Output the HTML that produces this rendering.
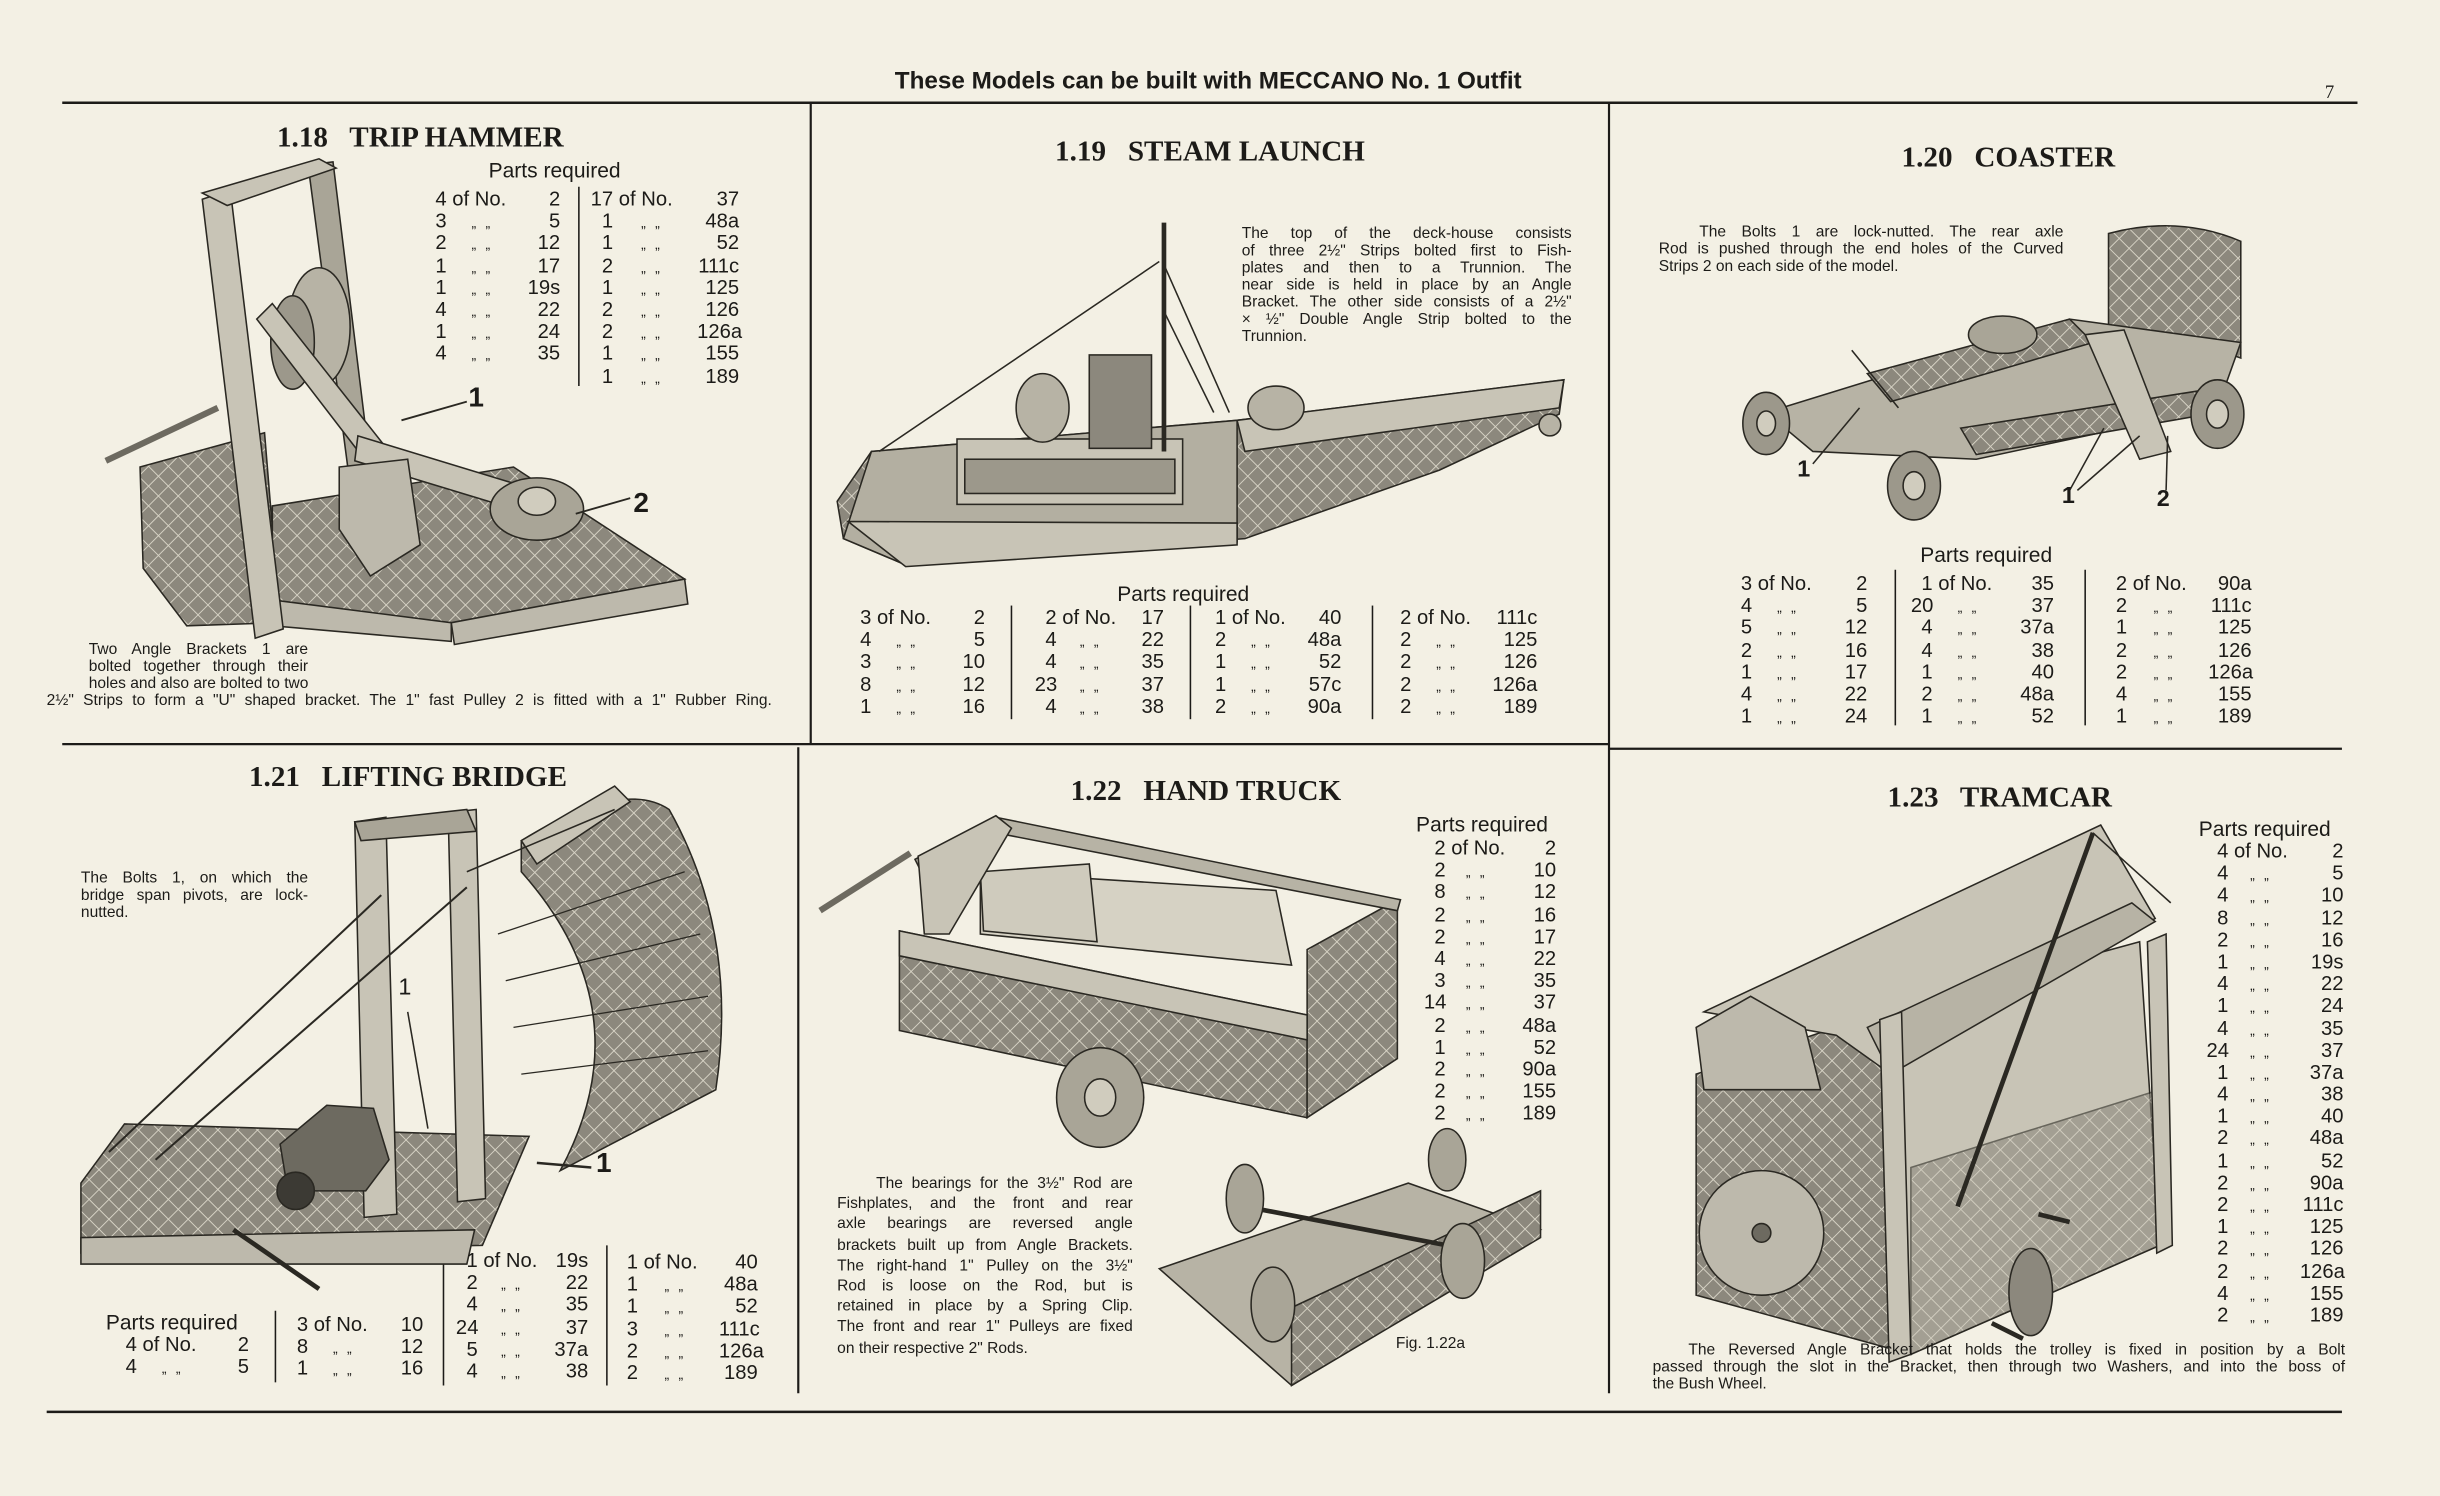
<!DOCTYPE html>
<html><head><meta charset="utf-8">
<style>
html,body{margin:0;padding:0;background:#f3f0e4;}
#pg{position:relative;width:2440px;height:1496px;overflow:hidden;background:#f3f0e4;}
#w{position:absolute;left:0;top:0;width:1568px;height:961px;transform:scale(1.5561,1.5567);transform-origin:0 0;}
svg{position:absolute;left:0;top:0}
.x{position:absolute;color:#1c1b18;font-family:"Liberation Sans Narrow","Liberation Sans",sans-serif;white-space:nowrap}
.ttl{position:absolute;font-family:"Liberation Serif",serif;font-weight:bold;font-size:18px;color:#1c1b18;white-space:pre;transform:scaleX(1.04);transform-origin:0 0}
.pr{font-size:13.5px}
.tb{position:absolute;font-family:"Liberation Sans Narrow","Liberation Sans",sans-serif;font-size:13px;line-height:14.2px;color:#1c1b18;white-space:nowrap}
.tb div{height:14.2px}
.tb span{display:inline-block}
.q{width:var(--q);text-align:right}
.m{width:var(--m);text-align:left;padding-left:0}
.m.d{text-align:center;font-size:9px;letter-spacing:6px}
.n{width:var(--n);text-align:right}
.cap{position:absolute;font-family:"Liberation Sans Narrow","Liberation Sans",sans-serif;font-size:10px;line-height:11px;color:#1c1b18;text-align:justify;text-align-last:justify}
.cap .l{display:block;white-space:nowrap}
.lbl{position:absolute;font-family:"Liberation Sans",sans-serif;font-weight:bold;font-size:18px;color:#1c1b18}
</style></head><body><div id="pg"><div id="w">

<svg width="1568" height="961" viewBox="0 0 1568 961">
<defs>
<pattern id="h" width="9" height="9" patternUnits="userSpaceOnUse" patternTransform="rotate(45)">
<rect width="9" height="9" fill="#8c887d"/>
<line x1="0" y1="0" x2="0" y2="9" stroke="#d8d4c6" stroke-width="1.2"/>
<line x1="0" y1="0" x2="9" y2="0" stroke="#d8d4c6" stroke-width="1.2"/>
</pattern>
</defs>
<g stroke="#1c1b18" fill="none">
<line x1="40" y1="66" x2="1515" y2="66" stroke-width="1.6"/>
<line x1="521" y1="66" x2="521" y2="478" stroke-width="1.4"/>
<line x1="1034" y1="66" x2="1034" y2="895" stroke-width="1.4"/>
<line x1="513" y1="480" x2="513" y2="895" stroke-width="1.4"/>
<line x1="40" y1="478" x2="1034" y2="478" stroke-width="1.4"/>
<line x1="1034" y1="481" x2="1505" y2="481" stroke-width="1.4"/>
<line x1="30" y1="907" x2="1505" y2="907" stroke-width="1.6"/>
<line x1="372" y1="120" x2="372" y2="248" stroke-width="1"/>
<line x1="650" y1="389" x2="650" y2="462"/><line x1="765" y1="389" x2="765" y2="462"/><line x1="882" y1="389" x2="882" y2="462"/>
<line x1="1218" y1="366" x2="1218" y2="466"/><line x1="1340" y1="366" x2="1340" y2="466"/>
<line x1="177" y1="842" x2="177" y2="888"/><line x1="285" y1="800" x2="285" y2="890"/><line x1="390" y1="800" x2="390" y2="890"/>
</g>

<!-- 1.18 Trip hammer -->
<g stroke="#2a2822" stroke-width="1">
<path d="M90,300 L170,278 L180,400 L120,402 L92,365 Z" fill="url(#h)"/>
<path d="M175,325 L330,300 L440,372 L290,402 L175,398 Z" fill="url(#h)"/>
<path d="M172,385 L290,400 L290,412 L175,402 Z" fill="#bdb9ac"/>
<path d="M290,400 L440,372 L442,388 L292,414 Z" fill="#bdb9ac"/>
<path d="M198,106 L214,104 L238,300 L224,304 Z" fill="#a9a597"/>
<path d="M130,128 L148,122 L182,404 L164,410 Z" fill="#c8c4b6"/>
<path d="M130,124 L205,102 L216,108 L146,132 Z" fill="#c8c4b6"/>
<ellipse cx="205" cy="210" rx="20" ry="38" fill="#b7b3a5"/>
<ellipse cx="188" cy="220" rx="14" ry="30" fill="#9c988b"/>
<path d="M175,195 L250,290 L238,300 L165,205 Z" fill="#c8c4b6"/>
<path d="M230,280 L345,315 L340,330 L228,296 Z" fill="#c8c4b6"/>
<path d="M218,300 L262,295 L270,350 L238,370 L218,340 Z" fill="#bdb9ac"/>
<ellipse cx="345" cy="327" rx="30" ry="20" fill="#a9a597"/>
<ellipse cx="345" cy="322" rx="12" ry="9" fill="#d0ccbe"/>
<line x1="68" y1="296" x2="140" y2="262" stroke-width="4" stroke="#6d6a60"/>
<line x1="258" y1="270" x2="300" y2="258" stroke-width="1.2"/>
<line x1="370" y1="330" x2="405" y2="320" stroke-width="1.2"/>
</g>

<!-- 1.19 Steam launch -->
<g stroke="#2a2822" stroke-width="1">
<path d="M538,322 L560,290 L795,270 L1005,244 L1002,266 L925,302 L800,346 L580,362 L542,346 Z" fill="url(#h)"/>
<path d="M560,290 L795,270 L795,348 L580,362 L542,346 Z" fill="#b3afa1"/>
<path d="M545,335 L795,336 L795,350 L582,364 Z" fill="#c8c4b6"/>
<path d="M795,270 L1005,244 L1002,262 L800,290 Z" fill="#c8c4b6"/>
<rect x="615" y="282" width="145" height="42" fill="#c8c4b6"/>
<rect x="620" y="295" width="135" height="22" fill="#9c988b"/>
<ellipse cx="670" cy="262" rx="17" ry="22" fill="#b7b3a5"/>
<ellipse cx="820" cy="262" rx="18" ry="14" fill="#b7b3a5"/>
<rect x="700" y="228" width="40" height="60" fill="#8c887d"/>
<line x1="748" y1="143" x2="748" y2="290" stroke-width="3"/>
<line x1="565" y1="290" x2="745" y2="168"/>
<line x1="748" y1="170" x2="790" y2="265"/>
<line x1="748" y1="200" x2="780" y2="265"/>
<circle cx="996" cy="273" r="7" fill="#b7b3a5"/>
</g>

<!-- 1.20 Coaster -->
<g stroke="#2a2822" stroke-width="1">
<path d="M1355,150 Q1400,138 1440,155 L1440,230 Q1400,215 1355,225 Z" fill="url(#h)"/>
<path d="M1135,265 L1330,205 L1440,220 L1425,262 L1270,295 L1165,290 Z" fill="#b7b3a5"/>
<path d="M1200,240 L1330,205 L1345,220 L1215,258 Z" fill="url(#h)"/>
<path d="M1260,275 L1420,250 L1425,265 L1270,292 Z" fill="url(#h)"/>
<path d="M1340,215 L1365,212 L1395,290 L1375,295 Z" fill="#c8c4b6"/>
<ellipse cx="1287" cy="215" rx="22" ry="12" fill="#a9a597"/>
<ellipse cx="1135" cy="272" rx="15" ry="20" fill="#9c988b"/><ellipse cx="1135" cy="272" rx="6" ry="8" fill="#d0ccbe"/>
<ellipse cx="1230" cy="312" rx="17" ry="22" fill="#9c988b"/><ellipse cx="1230" cy="312" rx="7" ry="9" fill="#d0ccbe"/>
<ellipse cx="1425" cy="266" rx="17" ry="22" fill="#9c988b"/><ellipse cx="1425" cy="266" rx="7" ry="9" fill="#d0ccbe"/>
<line x1="1190" y1="225" x2="1220" y2="262"/>
<line x1="1165" y1="298" x2="1195" y2="262"/>
<line x1="1330" y1="315" x2="1352" y2="275"/><line x1="1335" y1="315" x2="1375" y2="280"/>
<line x1="1392" y1="315" x2="1393" y2="280"/>
</g>

<!-- 1.21 Lifting bridge -->
<g stroke="#2a2822" stroke-width="1">
<path d="M52,760 L80,722 L340,730 L310,800 L52,805 Z" fill="url(#h)"/>
<path d="M52,795 L305,790 L300,812 L52,812 Z" fill="#bdb9ac"/>
<path d="M228,528 L248,525 L255,780 L234,782 Z" fill="#c8c4b6"/>
<path d="M288,522 L306,520 L312,770 L294,772 Z" fill="#c8c4b6"/>
<path d="M228,528 L300,520 L306,534 L232,540 Z" fill="#a9a597"/>
<path d="M335,540 Q400,500 430,520 Q475,600 460,700 L360,752 Q415,650 335,560 Z" fill="url(#h)"/>
<path d="M335,540 L395,505 L405,515 L345,555 Z" fill="#c8c4b6"/>
<line x1="70" y1="740" x2="245" y2="575" stroke-width="1.3"/>
<line x1="100" y1="745" x2="300" y2="570" stroke-width="1.3"/>
<line x1="300" y1="560" x2="395" y2="520"/>
<g stroke-width="0.8"><line x1="320" y1="600" x2="440" y2="560"/><line x1="325" y1="630" x2="450" y2="600"/><line x1="330" y1="660" x2="455" y2="640"/><line x1="335" y1="690" x2="455" y2="675"/></g>
<path d="M180,735 L210,710 L240,712 L250,745 L235,765 L185,765 Z" fill="#6d6a60"/>
<ellipse cx="190" cy="765" rx="12" ry="12" fill="#3c3a34"/>
<line x1="150" y1="790" x2="205" y2="828" stroke-width="3"/>
<line x1="262" y1="650" x2="275" y2="725"/>
<line x1="345" y1="747" x2="380" y2="750" stroke-width="1.6"/>
</g>

<!-- 1.22 Hand truck -->
<g stroke="#2a2822" stroke-width="1">
<path d="M578,598 L840,652 L840,718 L578,662 Z" fill="url(#h)"/>
<path d="M840,610 L898,578 L898,680 L840,718 Z" fill="url(#h)"/>
<path d="M578,598 L840,652 L840,668 L578,614 Z" fill="#c8c4b6"/>
<path d="M630,560 L820,572 L830,620 L630,600 Z" fill="#d6d2c4"/>
<path d="M630,560 L700,555 L705,605 L632,598 Z" fill="#cfcbbd"/>
<path d="M588,552 L640,525 L900,578 L898,585 L640,535 L592,560 Z" fill="#b7b3a5"/>
<path d="M590,550 L640,524 L650,532 L610,600 L594,600 Z" fill="#c8c4b6"/>
<line x1="527" y1="585" x2="585" y2="548" stroke-width="4" stroke="#6d6a60"/>
<ellipse cx="707" cy="705" rx="28" ry="32" fill="#a9a597"/>
<ellipse cx="707" cy="705" rx="10" ry="12" fill="#d0ccbe"/>
<path d="M745,815 L905,760 L990,790 L830,890 Z" fill="#b7b3a5"/>
<path d="M830,840 L990,765 L990,795 L830,890 Z" fill="url(#h)"/>
<line x1="800" y1="775" x2="930" y2="800" stroke-width="3"/>
<ellipse cx="800" cy="770" rx="12" ry="22" fill="#a9a597"/>
<ellipse cx="930" cy="745" rx="12" ry="20" fill="#a9a597"/>
<ellipse cx="940" cy="810" rx="14" ry="24" fill="#a9a597"/>
<ellipse cx="818" cy="838" rx="14" ry="24" fill="#a9a597"/>
</g>

<!-- 1.23 Tramcar -->
<g stroke="#2a2822" stroke-width="1">
<path d="M1090,690 L1210,650 L1228,870 L1090,832 Z" fill="url(#h)"/>
<path d="M1210,650 L1375,605 L1388,800 L1228,870 Z" fill="#c8c4b6"/>
<path d="M1228,750 L1388,700 L1388,800 L1228,870 Z" fill="url(#h)" opacity="0.6"/>
<path d="M1095,650 L1350,530 L1385,590 L1215,690 L1180,665 Z" fill="#c8c4b6"/>
<path d="M1200,660 L1370,580 L1385,592 L1215,690 Z" fill="#b7b3a5"/>
<path d="M1090,660 L1125,640 L1160,660 L1170,700 L1095,700 Z" fill="#bdb9ac"/>
<path d="M1380,605 L1392,600 L1396,800 L1386,805 Z" fill="#c8c4b6"/>
<path d="M1208,655 L1222,650 L1228,870 L1214,875 Z" fill="#c8c4b6"/>
<line x1="1258" y1="775" x2="1345" y2="535" stroke-width="3"/>
<line x1="1345" y1="535" x2="1395" y2="580"/>
<circle cx="1132" cy="792" r="40" fill="#bdb9ac"/>
<circle cx="1132" cy="792" r="6" fill="#6d6a60"/>
<ellipse cx="1305" cy="830" rx="14" ry="28" fill="#8c887d"/>
<line x1="1310" y1="780" x2="1330" y2="785" stroke-width="3"/>
<line x1="1280" y1="850" x2="1300" y2="860" stroke-width="3"/>
</g>
</svg>

<div class="x" style="left:575px;top:44px;font-size:15.6px;font-weight:bold;font-family:'Liberation Sans Narrow','Liberation Sans',sans-serif">These Models can be built with MECCANO No. 1 Outfit</div>
<div class="x" style="left:1494px;top:52px;font-size:12px;font-family:'Liberation Serif',serif">7</div>

<div class="ttl" style="left:178px;top:78px">1.18   TRIP HAMMER</div>
<div class="ttl" style="left:678px;top:87px">1.19   STEAM LAUNCH</div>
<div class="ttl" style="left:1222px;top:91px">1.20   COASTER</div>
<div class="ttl" style="left:160px;top:489px">1.21   LIFTING BRIDGE</div>
<div class="ttl" style="left:688px;top:498px">1.22   HAND TRUCK</div>
<div class="ttl" style="left:1213px;top:502px">1.23   TRAMCAR</div>

<div class="x pr" style="left:314px;top:102px">Parts  required</div>
<div class="tb" style="left:277px;top:121px;--q:10px;--m:50px;--n:23px">
<div><span class="q">4</span><span class="m">&nbsp;of No.</span><span class="n">2</span></div>
<div><span class="q">3</span><span class="m d">„„</span><span class="n">5</span></div>
<div><span class="q">2</span><span class="m d">„„</span><span class="n">12</span></div>
<div><span class="q">1</span><span class="m d">„„</span><span class="n">17</span></div>
<div><span class="q">1</span><span class="m d">„„</span><span class="n">19s</span></div>
<div><span class="q">4</span><span class="m d">„„</span><span class="n">22</span></div>
<div><span class="q">1</span><span class="m d">„„</span><span class="n">24</span></div>
<div><span class="q">4</span><span class="m d">„„</span><span class="n">35</span></div>
</div>
<div class="tb" style="left:378px;top:121px;--q:16px;--m:54px;--n:27px">
<div><span class="q">17</span><span class="m">&nbsp;of No.</span><span class="n">37</span></div>
<div><span class="q">1</span><span class="m d">„„</span><span class="n">48a</span></div>
<div><span class="q">1</span><span class="m d">„„</span><span class="n">52</span></div>
<div><span class="q">2</span><span class="m d">„„</span><span class="n">111c</span></div>
<div><span class="q">1</span><span class="m d">„„</span><span class="n">125</span></div>
<div><span class="q">2</span><span class="m d">„„</span><span class="n">126</span></div>
<div><span class="q">2</span><span class="m d">„„</span><span class="n">126a</span></div>
<div><span class="q">1</span><span class="m d">„„</span><span class="n">155</span></div>
<div><span class="q">1</span><span class="m d">„„</span><span class="n">189</span></div>
</div>
<div class="lbl" style="left:301px;top:245px">1</div>
<div class="lbl" style="left:407px;top:313px">2</div>
<div class="cap" style="left:57px;top:412px;width:141px">
<span class="l">Two Angle Brackets 1 are</span><span class="l">bolted together through their</span><span class="l">holes and also are bolted to two</span></div>
<div class="cap" style="left:30px;top:445px;width:466px"><span class="l">2½" Strips to form a "U" shaped bracket. The 1" fast Pulley 2 is fitted with a 1" Rubber Ring.</span></div>

<div class="cap" style="left:798px;top:145px;width:212px">
<span class="l">The top of the deck-house consists</span><span class="l">of three 2½" Strips bolted first to Fish-</span><span class="l">plates and then to a Trunnion. The</span><span class="l">near side is held in place by an Angle</span><span class="l">Bracket. The other side consists of a 2½"</span><span class="l">× ½" Double Angle Strip bolted to the</span><span class="l" style="text-align-last:left">Trunnion.</span></div>
<div class="x pr" style="left:718px;top:374px">Parts  required</div>
<div class="tb" style="left:550px;top:390px;--q:10px;--m:50px;--n:23px">
<div><span class="q">3</span><span class="m">&nbsp;of No.</span><span class="n">2</span></div>
<div><span class="q">4</span><span class="m d">„„</span><span class="n">5</span></div>
<div><span class="q">3</span><span class="m d">„„</span><span class="n">10</span></div>
<div><span class="q">8</span><span class="m d">„„</span><span class="n">12</span></div>
<div><span class="q">1</span><span class="m d">„„</span><span class="n">16</span></div>
</div>
<div class="tb" style="left:665px;top:390px;--q:14px;--m:48px;--n:21px">
<div><span class="q">2</span><span class="m">&nbsp;of No.</span><span class="n">17</span></div>
<div><span class="q">4</span><span class="m d">„„</span><span class="n">22</span></div>
<div><span class="q">4</span><span class="m d">„„</span><span class="n">35</span></div>
<div><span class="q">23</span><span class="m d">„„</span><span class="n">37</span></div>
<div><span class="q">4</span><span class="m d">„„</span><span class="n">38</span></div>
</div>
<div class="tb" style="left:778px;top:390px;--q:10px;--m:50px;--n:24px">
<div><span class="q">1</span><span class="m">&nbsp;of No.</span><span class="n">40</span></div>
<div><span class="q">2</span><span class="m d">„„</span><span class="n">48a</span></div>
<div><span class="q">1</span><span class="m d">„„</span><span class="n">52</span></div>
<div><span class="q">1</span><span class="m d">„„</span><span class="n">57c</span></div>
<div><span class="q">2</span><span class="m d">„„</span><span class="n">90a</span></div>
</div>
<div class="tb" style="left:897px;top:390px;--q:10px;--m:50px;--n:31px">
<div><span class="q">2</span><span class="m">&nbsp;of No.</span><span class="n">111c</span></div>
<div><span class="q">2</span><span class="m d">„„</span><span class="n">125</span></div>
<div><span class="q">2</span><span class="m d">„„</span><span class="n">126</span></div>
<div><span class="q">2</span><span class="m d">„„</span><span class="n">126a</span></div>
<div><span class="q">2</span><span class="m d">„„</span><span class="n">189</span></div>
</div>

<div class="cap" style="left:1066px;top:144px;width:260px">
<span class="l" style="padding-left:26px">The Bolts 1 are lock-nutted.  The rear axle</span><span class="l">Rod is pushed through the end holes of the Curved</span><span class="l" style="text-align-last:left">Strips 2 on each side of the model.</span></div>
<div class="lbl" style="left:1155px;top:293px;font-size:15px">1</div>
<div class="lbl" style="left:1325px;top:310px;font-size:15px">1</div>
<div class="lbl" style="left:1386px;top:312px;font-size:15px">2</div>
<div class="x pr" style="left:1234px;top:349px">Parts  required</div>
<div class="tb" style="left:1116px;top:368px;--q:10px;--m:50px;--n:24px">
<div><span class="q">3</span><span class="m">&nbsp;of No.</span><span class="n">2</span></div>
<div><span class="q">4</span><span class="m d">„„</span><span class="n">5</span></div>
<div><span class="q">5</span><span class="m d">„„</span><span class="n">12</span></div>
<div><span class="q">2</span><span class="m d">„„</span><span class="n">16</span></div>
<div><span class="q">1</span><span class="m d">„„</span><span class="n">17</span></div>
<div><span class="q">4</span><span class="m d">„„</span><span class="n">22</span></div>
<div><span class="q">1</span><span class="m d">„„</span><span class="n">24</span></div>
</div>
<div class="tb" style="left:1228px;top:368px;--q:14px;--m:50px;--n:28px">
<div><span class="q">1</span><span class="m">&nbsp;of No.</span><span class="n">35</span></div>
<div><span class="q">20</span><span class="m d">„„</span><span class="n">37</span></div>
<div><span class="q">4</span><span class="m d">„„</span><span class="n">37a</span></div>
<div><span class="q">4</span><span class="m d">„„</span><span class="n">38</span></div>
<div><span class="q">1</span><span class="m d">„„</span><span class="n">40</span></div>
<div><span class="q">2</span><span class="m d">„„</span><span class="n">48a</span></div>
<div><span class="q">1</span><span class="m d">„„</span><span class="n">52</span></div>
</div>
<div class="tb" style="left:1357px;top:368px;--q:10px;--m:52px;--n:28px">
<div><span class="q">2</span><span class="m">&nbsp;of No.</span><span class="n">90a</span></div>
<div><span class="q">2</span><span class="m d">„„</span><span class="n">111c</span></div>
<div><span class="q">1</span><span class="m d">„„</span><span class="n">125</span></div>
<div><span class="q">2</span><span class="m d">„„</span><span class="n">126</span></div>
<div><span class="q">2</span><span class="m d">„„</span><span class="n">126a</span></div>
<div><span class="q">4</span><span class="m d">„„</span><span class="n">155</span></div>
<div><span class="q">1</span><span class="m d">„„</span><span class="n">189</span></div>
</div>

<div class="cap" style="left:52px;top:559px;width:146px">
<span class="l" style="padding-left:0">The Bolts 1, on which the</span><span class="l">bridge span pivots, are lock-</span><span class="l" style="text-align-last:left">nutted.</span></div>
<div class="lbl" style="left:256px;top:626px;font-size:15px;font-weight:normal">1</div>
<div class="lbl" style="left:383px;top:737px">1</div>
<div class="x pr" style="left:68px;top:842px">Parts  required</div>
<div class="tb" style="left:78px;top:857px;--q:10px;--m:50px;--n:22px">
<div><span class="q">4</span><span class="m">&nbsp;of No.</span><span class="n">2</span></div>
<div><span class="q">4</span><span class="m d">„„</span><span class="n">5</span></div>
</div>
<div class="tb" style="left:188px;top:844px;--q:10px;--m:50px;--n:24px">
<div><span class="q">3</span><span class="m">&nbsp;of No.</span><span class="n">10</span></div>
<div><span class="q">8</span><span class="m d">„„</span><span class="n">12</span></div>
<div><span class="q">1</span><span class="m d">„„</span><span class="n">16</span></div>
</div>
<div class="tb" style="left:293px;top:803px;--q:14px;--m:48px;--n:23px">
<div><span class="q">1</span><span class="m">&nbsp;of No.</span><span class="n">19s</span></div>
<div><span class="q">2</span><span class="m d">„„</span><span class="n">22</span></div>
<div><span class="q">4</span><span class="m d">„„</span><span class="n">35</span></div>
<div><span class="q">24</span><span class="m d">„„</span><span class="n">37</span></div>
<div><span class="q">5</span><span class="m d">„„</span><span class="n">37a</span></div>
<div><span class="q">4</span><span class="m d">„„</span><span class="n">38</span></div>
</div>
<div class="tb" style="left:400px;top:804px;--q:10px;--m:52px;--n:25px">
<div><span class="q">1</span><span class="m">&nbsp;of No.</span><span class="n">40</span></div>
<div><span class="q">1</span><span class="m d">„„</span><span class="n">48a</span></div>
<div><span class="q">1</span><span class="m d">„„</span><span class="n">52</span></div>
<div><span class="q">3</span><span class="m d">„„</span><span class="n">111c</span></div>
<div><span class="q">2</span><span class="m d">„„</span><span class="n">126a</span></div>
<div><span class="q">2</span><span class="m d">„„</span><span class="n">189</span></div>
</div>

<div class="x pr" style="left:910px;top:522px">Parts  required</div>
<div class="tb" style="left:915px;top:538px;--q:14px;--m:44px;--n:27px">
<div><span class="q">2</span><span class="m">&nbsp;of No.</span><span class="n">2</span></div>
<div><span class="q">2</span><span class="m d">„„</span><span class="n">10</span></div>
<div><span class="q">8</span><span class="m d">„„</span><span class="n">12</span></div>
<div><span class="q">2</span><span class="m d">„„</span><span class="n">16</span></div>
<div><span class="q">2</span><span class="m d">„„</span><span class="n">17</span></div>
<div><span class="q">4</span><span class="m d">„„</span><span class="n">22</span></div>
<div><span class="q">3</span><span class="m d">„„</span><span class="n">35</span></div>
<div><span class="q">14</span><span class="m d">„„</span><span class="n">37</span></div>
<div><span class="q">2</span><span class="m d">„„</span><span class="n">48a</span></div>
<div><span class="q">1</span><span class="m d">„„</span><span class="n">52</span></div>
<div><span class="q">2</span><span class="m d">„„</span><span class="n">90a</span></div>
<div><span class="q">2</span><span class="m d">„„</span><span class="n">155</span></div>
<div><span class="q">2</span><span class="m d">„„</span><span class="n">189</span></div>
</div>
<div class="cap" style="left:538px;top:754px;width:190px;line-height:13.2px">
<span class="l" style="padding-left:25px">The bearings for the 3½" Rod are</span><span class="l">Fishplates, and the front and rear</span><span class="l">axle bearings are reversed angle</span><span class="l">brackets built up from Angle Brackets.</span><span class="l">The right-hand 1" Pulley on the 3½"</span><span class="l">Rod is loose on the Rod, but is</span><span class="l">retained in place by a Spring Clip.</span><span class="l">The front and rear 1" Pulleys are fixed</span><span class="l" style="text-align-last:left">on their respective 2" Rods.</span></div>
<div class="x" style="left:897px;top:858px;font-size:10px">Fig. 1.22a</div>

<div class="x pr" style="left:1413px;top:525px">Parts  required</div>
<div class="tb" style="left:1418px;top:540px;--q:14px;--m:46px;--n:28px;line-height:14.1px">
<div><span class="q">4</span><span class="m">&nbsp;of No.</span><span class="n">2</span></div>
<div><span class="q">4</span><span class="m d">„„</span><span class="n">5</span></div>
<div><span class="q">4</span><span class="m d">„„</span><span class="n">10</span></div>
<div><span class="q">8</span><span class="m d">„„</span><span class="n">12</span></div>
<div><span class="q">2</span><span class="m d">„„</span><span class="n">16</span></div>
<div><span class="q">1</span><span class="m d">„„</span><span class="n">19s</span></div>
<div><span class="q">4</span><span class="m d">„„</span><span class="n">22</span></div>
<div><span class="q">1</span><span class="m d">„„</span><span class="n">24</span></div>
<div><span class="q">4</span><span class="m d">„„</span><span class="n">35</span></div>
<div><span class="q">24</span><span class="m d">„„</span><span class="n">37</span></div>
<div><span class="q">1</span><span class="m d">„„</span><span class="n">37a</span></div>
<div><span class="q">4</span><span class="m d">„„</span><span class="n">38</span></div>
<div><span class="q">1</span><span class="m d">„„</span><span class="n">40</span></div>
<div><span class="q">2</span><span class="m d">„„</span><span class="n">48a</span></div>
<div><span class="q">1</span><span class="m d">„„</span><span class="n">52</span></div>
<div><span class="q">2</span><span class="m d">„„</span><span class="n">90a</span></div>
<div><span class="q">2</span><span class="m d">„„</span><span class="n">111c</span></div>
<div><span class="q">1</span><span class="m d">„„</span><span class="n">125</span></div>
<div><span class="q">2</span><span class="m d">„„</span><span class="n">126</span></div>
<div><span class="q">2</span><span class="m d">„„</span><span class="n">126a</span></div>
<div><span class="q">4</span><span class="m d">„„</span><span class="n">155</span></div>
<div><span class="q">2</span><span class="m d">„„</span><span class="n">189</span></div>
</div>
<div class="cap" style="left:1062px;top:862px;width:445px">
<span class="l" style="padding-left:23px">The Reversed Angle Bracket that holds the trolley is fixed in position by a Bolt</span><span class="l">passed through the slot in the Bracket, then through two Washers, and into the boss of</span><span class="l" style="text-align-last:left">the Bush Wheel.</span></div>

</div></div></body></html>
